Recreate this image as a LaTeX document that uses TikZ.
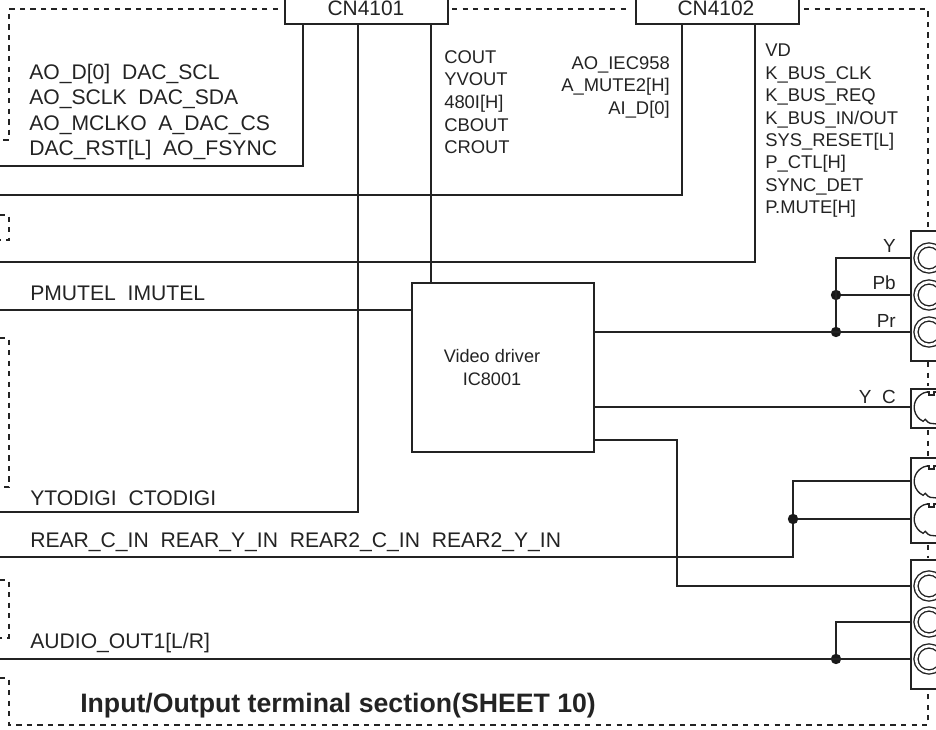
\documentclass[tikz,border=0pt]{standalone}
\usepackage{fontspec}
\setmainfont{Liberation Sans}
\usetikzlibrary{positioning, calc}
\definecolor{inkgray}{RGB}{35,35,35}
\begin{document}
\begin{tikzpicture}[
  x=0.75pt, y=-0.75pt,
  wire/.style = {draw=inkgray, line width=1.4pt},
  frame/.style = {draw=inkgray, line width=2pt, dash pattern=on 4pt off 3.9pt},
  box/.style = {
    rectangle, draw=inkgray, line width=1.5pt, fill=white, inner sep=0pt,
    text=inkgray, align=center, font=\fontsize{15.7pt}{17pt}\selectfont
  },
  sigbig/.style = {
    anchor=north west, inner sep=0pt, text=inkgray, align=left,
    font=\fontsize{15.85pt}{19pt}\selectfont
  },
  sigsmall/.style = {
    anchor=north west, inner sep=0pt, text=inkgray, align=left,
    font=\fontsize{13.8pt}{17pt}\selectfont
  },
  jacklabel/.style = {
    anchor=base east, inner sep=0pt, text=inkgray,
    font=\fontsize{14.2pt}{17pt}\selectfont
  },
  dot/.style = {circle, fill=black!90, inner sep=0pt, minimum size=7.8pt},
  jack/.style = {circle, draw=inkgray, line width=1.05pt, double=white,
    double distance=2pt, inner sep=0pt, minimum size=19.5pt}
]
\useasboundingbox (0,0) rectangle (936,730);
\clip (0,0) rectangle (936,730);

% dashed section outline
\draw[frame] (278,9) -- (9,9) -- (9,140) -- (0,140);
\draw[frame] (0,215) -- (9,215) -- (9,240) -- (0,240);
\draw[frame] (0,338) -- (9,338) -- (9,487) -- (3,487);
\draw[frame] (0,580) -- (9,580) -- (9,638) -- (0,638);
\draw[frame] (0,678) -- (9,678) -- (9,725) -- (928,725) -- (928,690);
\draw[frame] (452,9) -- (630,9);
\draw[frame] (804,9) -- (928,9) -- (928,228);
\draw[frame] (928,362) -- (928,386);
\draw[frame] (928,430) -- (928,456);
\draw[frame] (928,545) -- (928,558);

% connectors and driver
\node[box, minimum width=122.5pt, minimum height=30pt, anchor=south west] (cna) at (284,25) {};
\node[box, minimum width=122.5pt, minimum height=30pt, anchor=south west] (cnb) at (635,25) {};
\node[box, anchor=base, draw=none, fill=none] (cnatxt) at (366,16) {CN4101};
\node[box, anchor=base, draw=none, fill=none] (cnbtxt) at (716,16) {CN4102};
\node[box, minimum width=136.5pt, minimum height=126.5pt, anchor=north west] (drv) at (411,282) {};
\node[box, draw=none, fill=none, font=\fontsize{13.6pt}{17.3pt}\selectfont, anchor=north] (drvtxt) at (492,348) {Video driver\\IC8001};

% rear terminal blocks
\node[box, minimum width=40pt, minimum height=97.5pt, anchor=north west] (tera) at (910,230) {};
\node[box, minimum width=40pt, minimum height=29.5pt, anchor=north west] (terb) at (910,388) {};
\node[box, minimum width=40pt, minimum height=64pt, anchor=north west] (terc) at (910,457) {};
\node[box, minimum width=40pt, minimum height=97pt, anchor=north west] (terd) at (910,559) {};

\node[jack] (jy)  at (929,258) {};
\node[jack] (jpb) at (929,295) {};
\node[jack] (jpr) at (929,332) {};
\node[jack] (ja)  at (929,586) {};
\node[jack] (jb)  at (929,622) {};
\node[jack] (jc)  at (929,659) {};

% s-video sockets
\foreach \cy in {407,481,519} {
  \draw[wire, line width=1pt] (927,\cy-15) arc[start angle=-100, end angle=-245, radius=15.5]
    -- ++(2,-2) -- ++(3,3) -- ++(2,1) -- ++(10,1);
  \draw[wire, line width=1pt] (927,\cy-15) -- (929,\cy-15) -- (929,\cy-12) -- (934,\cy-12) -- (934,\cy-15) -- (940,\cy-15);
}

% named ends
\coordinate (aoL) at (0,166);
\coordinate (iecL) at (0,195);
\coordinate (vdL) at (0,262);
\coordinate (pmL) at (0,310);
\coordinate (ytL) at (0,512);
\coordinate (reL) at (0,557);
\coordinate (auL) at (0,659);
\coordinate (cnaA) at (303,25);
\coordinate (cnaB) at (358,25);
\coordinate (cnaC) at (431,25);
\coordinate (cnbA) at (682,25);
\coordinate (cnbB) at (755,25);
\coordinate (drvA) at (594,332);
\coordinate (drvB) at (594,407);
\coordinate (drvC) at (594,440);
\coordinate (endY) at (910,258);
\coordinate (endPb) at (910,295);
\coordinate (endPr) at (910,332);
\coordinate (endYC) at (910,407);
\coordinate (endS1) at (910,481);
\coordinate (endS2) at (910,519);
\coordinate (endA) at (910,586);
\coordinate (endB) at (910,622);
\coordinate (endC) at (910,659);
\node[dot] (dotPb) at (836,295) {};
\node[dot] (dotPr) at (836,332) {};
\node[dot] (dotS) at (793,519) {};
\node[dot] (dotC) at (836,659) {};

\draw[wire] (aoL) -| (cnaA);
\draw[wire] (iecL) -| (cnbA);
\draw[wire] (vdL) -| (cnbB);
\draw[wire] (ytL) -| (cnaB);
\draw[wire] (cnaC) -- (cnaC |- drv.north);
\draw[wire] (pmL) -- (pmL -| drv.west);
\draw[wire] (drvA) -- (endPr);
\draw[wire] (drvB) -- (endYC);
\draw[wire] (dotPr) |- (endY);
\draw[wire] (dotPb) -- (endPb);
\draw[wire] (reL) -| (dotS) |- (endS1);
\draw[wire] (dotS) -- (endS2);
\draw[wire] (drvC) -| (677,586) -- (endA);
\draw[wire] (auL) -- (endC);
\draw[wire] (dotC) |- (endB);

% signal names
\node[sigbig] (aotxt) at (29,64) {AO\_D[0]\ \ DAC\_SCL\\AO\_SCLK\ \ DAC\_SDA\\AO\_MCLKO\ \ A\_DAC\_CS\\DAC\_RST[L]\ \ AO\_FSYNC};
\node[sigsmall] (cotxt) at (444,50) {COUT\\YVOUT\\480I[H]\\CBOUT\\CROUT};
\node[sigsmall, anchor=north east, align=right] (iectxt) at (670,56) {AO\_IEC958\\A\_MUTE2[H]\\AI\_D[0]};
\node[sigsmall, font=\fontsize{13.8pt}{16.8pt}\selectfont] (vdtxt) at (765,44) {VD\\K\_BUS\_CLK\\K\_BUS\_REQ\\K\_BUS\_IN/OUT\\SYS\_RESET[L]\\P\_CTL[H]\\SYNC\_DET\\P.MUTE[H]};
\node[sigbig] (pmtxt) at (30,286) {PMUTEL\ \ IMUTEL};
\node[sigbig] (yttxt) at (30,490) {YTODIGI\ \ CTODIGI};
\node[sigbig] (retxt) at (30,532) {REAR\_C\_IN\ \ REAR\_Y\_IN\ \ REAR2\_C\_IN\ \ REAR2\_Y\_IN};
\node[sigbig] (autxt) at (30,633) {AUDIO\_OUT1[L/R]};
\node[anchor=north west, inner sep=0pt, text=inkgray, font=\fontsize{20pt}{24pt}\selectfont\bfseries] (titletxt) at (80,693) {Input/Output terminal section(SHEET 10)};

% jack labels
\node[jacklabel] (ly) at (896,253) {Y};
\node[jacklabel] (lpb) at (896,290) {Pb};
\node[jacklabel] (lpr) at (896,328) {Pr};
\node[jacklabel] (lyc) at (896,404) {Y\ \ C};
\end{tikzpicture}
\end{document}
